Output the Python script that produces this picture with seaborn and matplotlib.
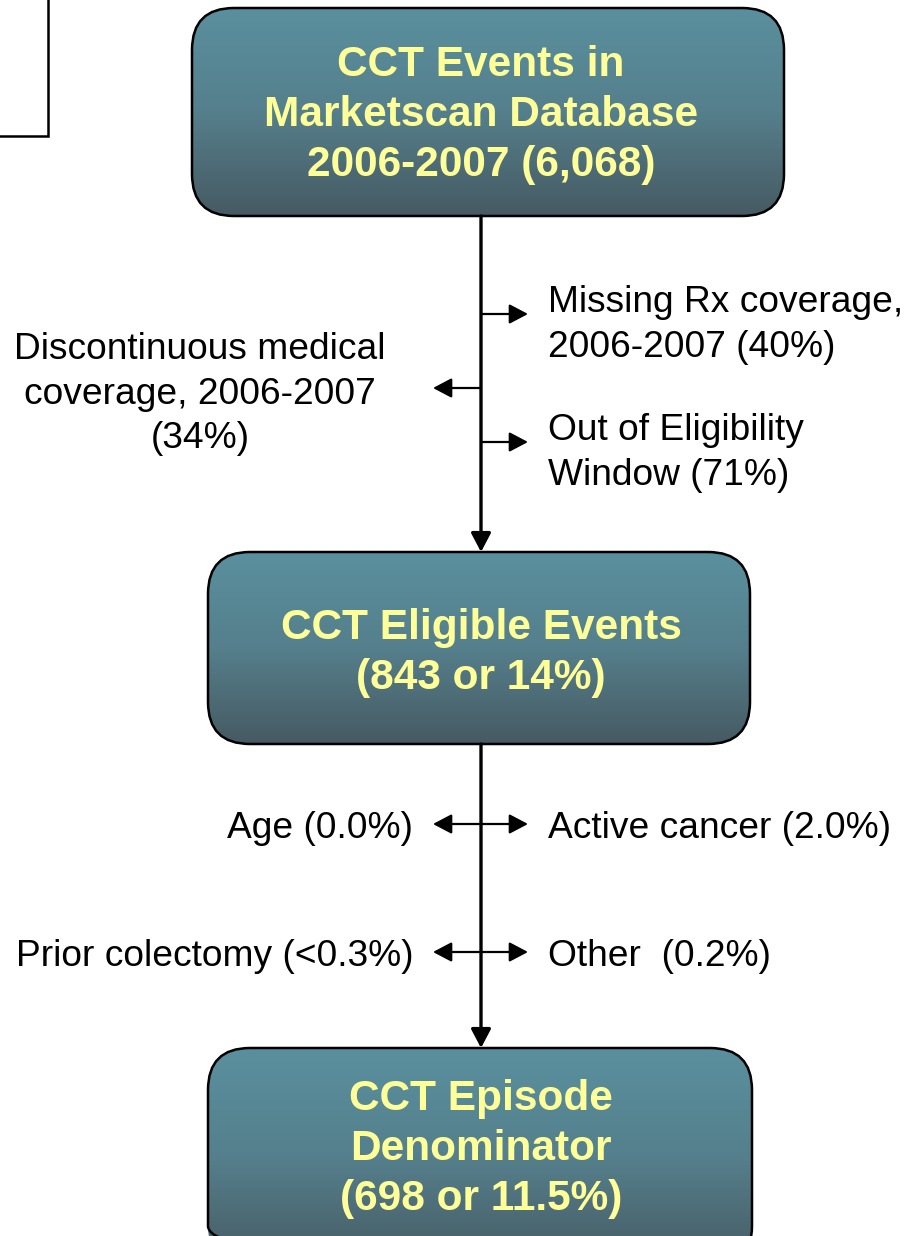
import matplotlib.pyplot as plt
import numpy as np
import seaborn as sns
from matplotlib.colors import LinearSegmentedColormap
from matplotlib.patches import FancyBboxPatch, Rectangle

sns.set_theme(style="white")
plt.rcParams["font.family"] = ["Liberation Sans", "DejaVu Sans"]

# flow boxes (top to bottom)
box_titles = ["CCT Events in\nMarketscan Database\n2006-2007", "CCT Eligible Events", "CCT Episode\nDenominator"]
box_counts = ["6,068", "843 or 14%", "698 or 11.5%"]

# exclusions between box 1 and box 2
excl1_labels = ["Missing Rx coverage,\n2006-2007", "Discontinuous medical\ncoverage, 2006-2007\n", "Out of Eligibility\nWindow"]
excl1_pcts = ["40%", "34%", "71%"]
excl1_sides = ["right", "left", "right"]

# exclusions between box 2 and box 3 (left, right pairs)
excl2_left = ["Age (0.0%)", "Prior colectomy (<0.3%)"]
excl2_right = ["Active cancer (2.0%)", "Other  (0.2%)"]

W, H = 913, 1236
fig = plt.figure(figsize=(W / 100, H / 100), dpi=100)
ax = fig.add_axes([0, 0, 1, 1])
ax.set_xlim(0, W)
ax.set_ylim(H, 0)
ax.axis("off")

cmap = LinearSegmentedColormap.from_list("teal", ["#5a909e", "#557f8c", "#465a62"])
grad = np.linspace(0, 1, 256).reshape(-1, 1)

boxes = [(192, 8, 592, 208), (208, 552, 542, 192), (208, 1048, 544, 220)]
text_y = [113, 651, 1147]
cx = 481


def draw_box(x, y, w, h):
    patch = FancyBboxPatch((x, y), w, h, boxstyle="round,pad=0,rounding_size=42",
                           facecolor="none", edgecolor="black", lw=1.8, zorder=3)
    ax.add_patch(patch)
    im = ax.imshow(grad, extent=(x, x + w, y + h, y), cmap=cmap, aspect="auto", zorder=2)
    im.set_clip_path(patch)


for (x, y, w, h), title, count, ty in zip(boxes, box_titles, box_counts, text_y):
    draw_box(x, y, w, h)
    if title.count("\n") == 2:
        label = f"{title} ({count})"
    else:
        label = f"{title}\n({count})"
    ax.text(cx, ty + 2, label, ha="center", va="center", color="#ffff99", fontsize=30.5,
            fontweight="bold", linespacing=1.32, zorder=4)

# partial box in top-left corner
ax.add_patch(Rectangle((-10, -10), 58, 146, facecolor="white", edgecolor="black", lw=1.8, zorder=2))

head = dict(arrowstyle="-|>,head_length=0.95,head_width=0.5", color="black", lw=1.6,
            shrinkA=0, shrinkB=0)
# main vertical connectors
ax.annotate("", xy=(cx, 552), xytext=(cx, 216), arrowprops=dict(head, lw=2.4))
ax.annotate("", xy=(cx, 1048), xytext=(cx, 744), arrowprops=dict(head, lw=2.4))

text_kw = dict(fontsize=26.7, color="black", va="center", linespacing=1.36, zorder=4)

arrow_y1 = [314, 388, 442]
label_y1 = [325, 394, 453]
for lab, pct, side, ay, ly in zip(excl1_labels, excl1_pcts, excl1_sides, arrow_y1, label_y1):
    if side == "right":
        ax.annotate("", xy=(528, ay), xytext=(cx, ay), arrowprops=head)
        ax.text(548, ly, f"{lab} ({pct})", ha="left", **text_kw)
    else:
        ax.annotate("", xy=(433, ay), xytext=(cx, ay), arrowprops=head)
        ax.text(200, ly, f"{lab}({pct})", ha="center", multialignment="center", **text_kw)

arrow_y2 = [824, 952]
for left, right, ay in zip(excl2_left, excl2_right, arrow_y2):
    ax.annotate("", xy=(433, ay), xytext=(cx, ay), arrowprops=head)
    ax.annotate("", xy=(528, ay), xytext=(cx, ay), arrowprops=head)
    ax.text(413, ay + 4, left, ha="right", **text_kw)
    ax.text(548, ay + 4, right, ha="left", **text_kw)

fig.savefig("out.png", dpi=100)
